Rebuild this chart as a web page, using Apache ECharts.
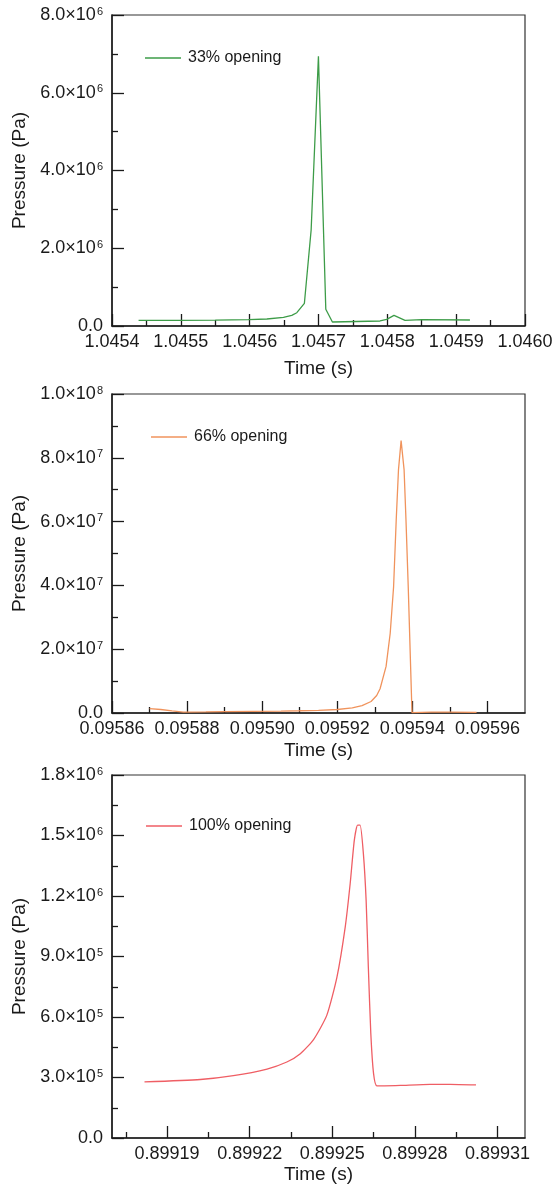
<!DOCTYPE html>
<html>
<head>
<meta charset="utf-8">
<script src="https://cdn.jsdelivr.net/npm/echarts@6/dist/echarts.min.js"></script>
<style>
  html, body { margin: 0; padding: 0; background: #fff; }
  #chart { width: 560px; height: 1185px; }
</style>
</head>
<body>
<div id="chart"></div>
<script>
// Pressure transients at three valve openings: [time (s), pressure (Pa)]
const series33 = [
  [1.0454386, 1.47e5], [1.0454991, 1.47e5], [1.0455500, 1.52e5], [1.0455983, 1.62e5],
  [1.0456250, 1.80e5], [1.0456491, 2.24e5], [1.0456612, 2.75e5], [1.0456685, 3.42e5],
  [1.0456795, 5.84e5], [1.0456893, 2.47e6], [1.0456999, 6.94e6], [1.0457106, 4.29e5],
  [1.0457202, 1.03e5], [1.0457894, 1.29e5], [1.0457991, 1.72e5], [1.0458097, 2.75e5],
  [1.0458257, 1.47e5], [1.0458499, 1.62e5], [1.0459200, 1.54e5]
];
const series66 = [
  [0.0958700, 1.35e6], [0.0958730, 1.10e6], [0.0958760, 6.5e5], [0.0958790, 3.0e5],
  [0.0958850, 3.5e5], [0.0958900, 4.5e5], [0.0959050, 6.0e5], [0.0959100, 7.0e5],
  [0.0959150, 8.5e5], [0.0959200, 1.10e6], [0.0959240, 1.60e6], [0.0959266, 2.30e6],
  [0.0959290, 3.60e6], [0.0959305, 5.50e6], [0.0959314, 7.60e6], [0.0959330, 1.46e7],
  [0.0959341, 2.50e7], [0.0959350, 3.96e7], [0.0959357, 6.05e7], [0.0959363, 7.62e7],
  [0.0959370, 8.54e7], [0.0959378, 7.62e7], [0.0959383, 6.05e7], [0.0959389, 3.96e7],
  [0.0959399, 1.0e5], [0.0959450, 2.5e5], [0.0959500, 2.5e5], [0.0959571, 2.2e5]
];
const series100 = [
  [0.8991818, 2.78e5], [0.8992021, 2.90e5], [0.8992141, 3.09e5], [0.8992263, 3.42e5],
  [0.8992335, 3.77e5], [0.8992384, 4.18e5], [0.8992432, 4.88e5], [0.8992480, 6.08e5],
  [0.8992517, 7.98e5], [0.8992547, 1.046e6], [0.8992565, 1.261e6], [0.8992580, 1.476e6],
  [0.8992592, 1.551e6], [0.8992601, 1.551e6], [0.8992613, 1.410e6], [0.8992623, 1.178e6],
  [0.8992631, 8.48e5], [0.8992640, 5.18e5], [0.8992650, 3.19e5], [0.8992662, 2.58e5],
  [0.8992747, 2.61e5], [0.8992855, 2.66e5], [0.8992928, 2.66e5], [0.8993022, 2.63e5]
];

const seriesNames = ['33% opening', '66% opening', '100% opening'];
const seriesColors = ['#3d9c48', '#f0935c', '#ef5e64'];

// x-axis tick labels and minor tick positions per panel
const xLabels33 = [1.0454, 1.0455, 1.0456, 1.0457, 1.0458, 1.0459, 1.0460];
const xMinor33 = [1.04545, 1.04555, 1.04565, 1.04575, 1.04585, 1.04595];
const xLabels66 = [0.09586, 0.09588, 0.09590, 0.09592, 0.09594, 0.09596];
const xMinor66 = [0.09587, 0.09589, 0.09591, 0.09593, 0.09595];
const xLabels100 = [0.89919, 0.89922, 0.89925, 0.89928, 0.89931];
const xMinor100 = [0.899175, 0.899205, 0.899235, 0.899265, 0.899295];

// y-axis ranges [min, max, major step]
const yRange33 = [0, 8e6, 2e6];
const yRange66 = [0, 1e8, 2e7];
const yRange100 = [0, 1.8e6, 3e5];

const FONT = "'Liberation Sans', Arial, sans-serif";
const INK = '#1a1a1a';

function sciLabel(v) {
  if (v === 0) return '{b|0.0}';
  const e = Math.floor(Math.log10(v) + 1e-9);
  const m = v / Math.pow(10, e);
  return '{b|' + m.toFixed(1) + '×10}{s|' + e + '}';
}

const panels = [
  { top: 15, height: 311, xMin: 1.0454, xMax: 1.0460, digits: 4, labels: xLabels33, minor: xMinor33,
    y: yRange33, data: series33, nameGap: 33, smooth: false, legend: { left: 145, top: 50 } },
  { top: 394, height: 319, xMin: 0.09586, xMax: 0.09597, digits: 5, labels: xLabels66, minor: xMinor66,
    y: yRange66, data: series66, nameGap: 28, smooth: false, legend: { left: 151, top: 429 } },
  { top: 775, height: 363, xMin: 0.89917, xMax: 0.89932, digits: 5, labels: xLabels100, minor: xMinor100,
    y: yRange100, data: series100, nameGap: 27, smooth: 0.2, legend: { left: 146, top: 818 } }
];

const grid = [], xAxis = [], yAxis = [], series = [], legend = [];

panels.forEach((p, i) => {
  grid.push({
    left: 112, right: 35, top: p.top, height: p.height,
    show: true, borderColor: '#333', borderWidth: 1.2, backgroundColor: 'transparent'
  });
  // main x axis: labels + major ticks
  xAxis.push({
    type: 'value', gridIndex: i, min: p.xMin, max: p.xMax, position: 'bottom',
    name: 'Time (s)', nameLocation: 'middle', nameGap: p.nameGap,
    nameTextStyle: { fontFamily: FONT, fontSize: 19, color: INK },
    axisLine: { show: true, lineStyle: { color: INK, width: 1.5 } },
    axisTick: { show: true, inside: true, length: 12, customValues: p.labels,
      lineStyle: { color: INK, width: 1.3 } },
    axisLabel: { show: true, customValues: p.labels, margin: 7,
      fontFamily: FONT, fontSize: 18, color: INK,
      formatter: v => v.toFixed(p.digits) },
    splitLine: { show: false }
  });
  // companion x axis carrying only the minor ticks
  xAxis.push({
    type: 'value', gridIndex: i, min: p.xMin, max: p.xMax, position: 'bottom',
    axisLine: { show: false },
    axisTick: { show: true, inside: true, length: 6, customValues: p.minor,
      lineStyle: { color: INK, width: 1.3 } },
    axisLabel: { show: false },
    splitLine: { show: false }
  });
  yAxis.push({
    type: 'value', gridIndex: i, min: p.y[0], max: p.y[1], interval: p.y[2],
    name: 'Pressure (Pa)', nameLocation: 'middle', nameGap: 72,
    nameTextStyle: { fontFamily: FONT, fontSize: 19, color: INK },
    axisLine: { show: true, lineStyle: { color: INK, width: 1.5 } },
    axisTick: { show: true, inside: true, length: 12, lineStyle: { color: INK, width: 1.3 } },
    minorTick: { show: true, splitNumber: 2, length: 6, lineStyle: { color: INK, width: 1.3 } },
    axisLabel: {
      margin: 9, formatter: sciLabel,
      rich: {
        b: { fontFamily: FONT, fontSize: 18, color: INK, lineHeight: 20 },
        s: { fontFamily: FONT, fontSize: 11, color: INK, lineHeight: 11, verticalAlign: 'top', padding: [1, 0, 0, 1] }
      }
    },
    splitLine: { show: false }
  });
  series.push({
    name: seriesNames[i], type: 'line', xAxisIndex: i * 2, yAxisIndex: i,
    data: p.data, showSymbol: false, symbol: 'none',
    smooth: p.smooth,
    lineStyle: { color: seriesColors[i], width: 1.3 },
    itemStyle: { color: seriesColors[i] },
    animation: false
  });
  legend.push({
    data: [seriesNames[i]], left: p.legend.left, top: p.legend.top, padding: 0,
    icon: 'rect', itemWidth: 36, itemHeight: 1.5,
    textStyle: { fontFamily: FONT, fontSize: 16, color: INK, padding: [0, 0, 0, 2] }
  });
});

const chart = echarts.init(document.getElementById('chart'), null, { renderer: 'canvas' });
chart.setOption({
  backgroundColor: '#fff',
  animation: false,
  grid, xAxis, yAxis, series, legend
});
</script>
</body>
</html>
